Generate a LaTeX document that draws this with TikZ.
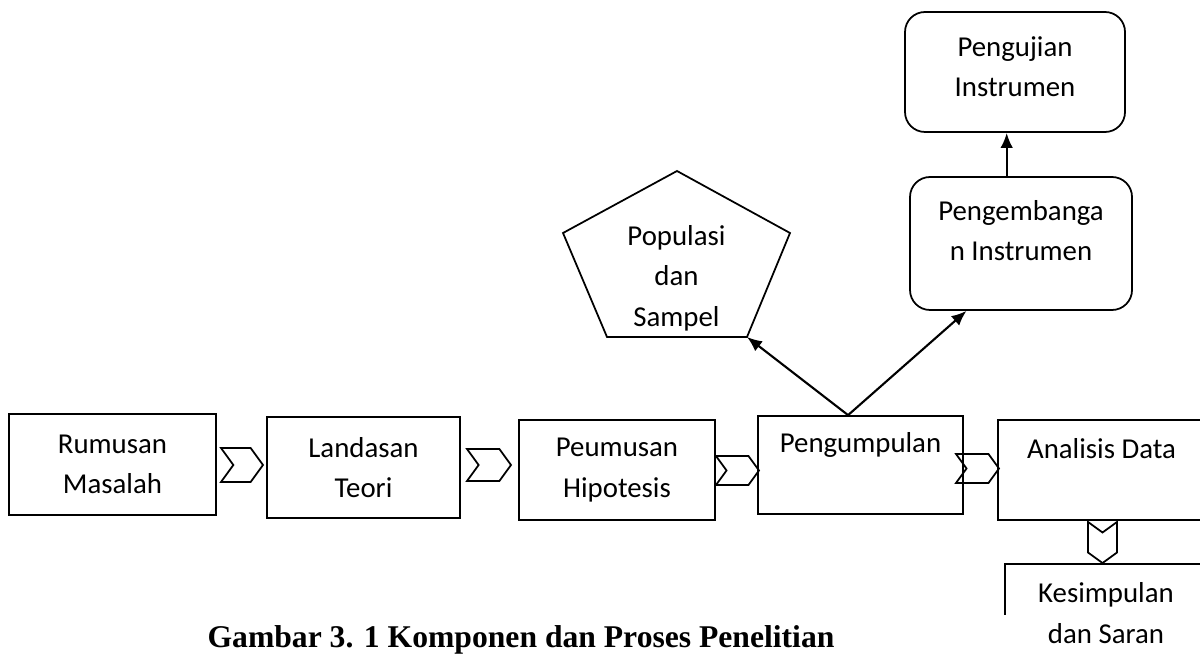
\documentclass[tikz,border=0pt]{standalone}
\usepackage{fontspec}
\setmainfont{Carlito}
\newfontfamily\captionfont{Liberation Serif}
\usepackage{tikz}
\usetikzlibrary{arrows.meta,shapes.symbols}
\tikzset{
    block/.style = {
        draw,
        shape=rectangle,
        align=center,
        minimum height=2.02cm,
        minimum width=3.9cm,
        inner sep=0pt,
        line width=1pt
    },
    topblock/.style = {
        block,
        minimum height=0pt
    },
    rblock/.style = {
        block,
        minimum height=0pt,
        rounded corners=0.4cm
    },
    chev/.style = {
        draw,
        shape=signal,
        signal from=west,
        signal to=east,
        signal pointer angle=108,
        inner sep=0pt,
        line width=1pt
    },
    empty/.style = {
        shape=rectangle,
        align=center,
        inner sep=0pt
    },
    link/.style = {
        draw,
        ->,
        line width=1.2pt
    },
    >={Latex[length=0.3cm,width=0.25cm]},
}

\begin{document}
\begin{tikzpicture}[font=\fontsize{16.4pt}{23pt}\selectfont]
                \useasboundingbox (0,0) rectangle (24,13.34);

                \node[block, minimum width=4.14cm] (rumusan) at (2.25,4.05) {Rumusan\\Masalah};
                \node[block, minimum width=3.86cm] (landasan) at (7.27,3.99) {Landasan\\Teori};
                \node[block, minimum width=3.92cm, minimum height=2cm] (peumusan) at (12.34,3.94) {Peumusan\\Hipotesis};
                \node[topblock, minimum width=4.1cm, text height=0.74cm, text depth=1.22cm] (pengumpulan) at (17.21,4.04) {Pengumpulan};
                \node[topblock, minimum width=4.14cm, text height=0.78cm, text depth=1.22cm] (analisis) at (22.03,3.94) {Analisis Data};
                \node[empty, minimum width=4.04cm, text height=1.58cm, text depth=0pt] (kesimpulan) at (22.12,1.27) {Kesimpulan\\dan Saran};
                \path[draw, line width=1pt] ([yshift=-1.02cm]kesimpulan.north west) |- (kesimpulan.north east);

                \node[chev, minimum width=0.84cm, minimum height=0.68cm] (c1) at (4.84,4.04) {};
                \node[chev, minimum width=0.88cm, minimum height=0.64cm] (c2) at (9.78,4.04) {};
                \node[chev, minimum width=0.86cm, minimum height=0.58cm] (c3) at (14.75,3.93) {};
                \node[chev, minimum width=0.86cm, minimum height=0.58cm] (c4) at (19.55,3.97) {};
                \node[chev, signal from=north, signal to=south, minimum width=0.58cm, minimum height=0.4cm] (c5) at (22.05,2.49) {};

                % pentagon
                \coordinate (pop1) at (13.54,9.92);
                \coordinate (pop2) at (15.80,8.68);
                \coordinate (pop3) at (14.94,6.60);
                \coordinate (pop4) at (12.14,6.60);
                \coordinate (pop5) at (11.26,8.68);
                \path[draw, line width=1pt] (pop1) -- (pop2) -- (pop3) -- (pop4) -- (pop5) -- cycle;
                \node[empty] (populasi) at (13.53,7.78) {Populasi\\dan\\Sampel};

                \node[rblock, minimum width=4.44cm, text height=1.68cm, text depth=0.98cm] (pengembangan) at (20.42,8.47) {Pengembanga\\n Instrumen};
                \node[rblock, minimum width=4.4cm, text height=1.7cm, text depth=0.7cm] (pengujian) at (20.3,11.9) {Pengujian\\Instrumen};

                \path[link] (pengumpulan.104) -- (pop3);
                \path[link] (pengumpulan.104) -- (pengembangan.231);
                \path[link] (pengembangan.102) -- (pengembangan.102 |- pengujian.south);

                \node[anchor=base, font=\captionfont\bfseries\fontsize{18pt}{22pt}\selectfont] (caption) at (10.42,0.4) {Gambar 3. 1 Komponen dan Proses Penelitian};
            \end{tikzpicture}
\end{document}
